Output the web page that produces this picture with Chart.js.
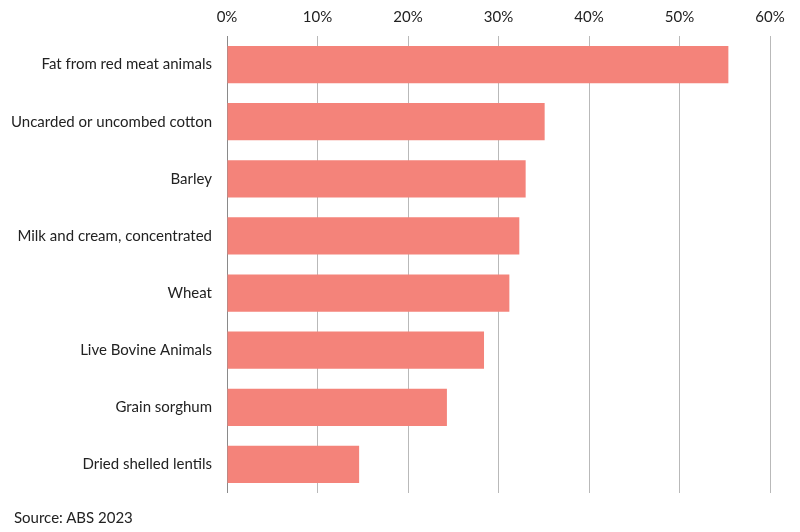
<!DOCTYPE html>
<html>
<head>
<meta charset="utf-8">
<script src="https://cdn.jsdelivr.net/npm/chart.js@4/dist/chart.umd.min.js"></script>
<style>
  html, body { margin: 0; padding: 0; background: #fff; }
  #wrap { position: relative; width: 800px; height: 532px; }
  #source { position: absolute; left: 14px; top: 508px; font: 15px Lato, sans-serif; color: #222; }
</style>
</head>
<body>
<div id="wrap">
  <canvas id="chart" width="800" height="532"></canvas>
  <div id="source">Source: ABS 2023</div>
</div>
<script>
// Data
const categories = ['Fat from red meat animals','Uncarded or uncombed cotton','Barley','Milk and cream, concentrated','Wheat','Live Bovine Animals','Grain sorghum','Dried shelled lentils'];
const shares = [55.4, 35.1, 33.0, 32.3, 31.2, 28.4, 24.3, 14.6];
const tickValues = [0, 10, 20, 30, 40, 50, 60];

document.addEventListener('DOMContentLoaded', function(){
  const ctx = document.getElementById('chart');
  new Chart(ctx.getContext('2d'), {
    type: 'bar',
    data: {
      labels: categories,
      datasets: [{
        data: shares,
        backgroundColor: '#f4837a',
        borderWidth: 0,
        categoryPercentage: 1,
        barPercentage: 0.65
      }]
    },
    options: {
      indexAxis: 'y',
      responsive: false,
      animation: false,
      layout: { padding: { left: 0, right: 30, top: 0, bottom: 39 } },
      plugins: { legend: { display: false }, tooltip: { enabled: false } },
      scales: {
        x: {
          position: 'top',
          min: tickValues[0],
          max: tickValues[tickValues.length - 1],
          afterBuildTicks: s => { s.ticks = tickValues.map(v => ({ value: v })); },
          afterFit: s => { s.height = 36; },
          ticks: {
            callback: v => v + '%',
            color: '#222',
            padding: 10,
            font: { family: 'Lato, sans-serif', size: 15 }
          },
          grid: {
            color: ctx => ctx.tick && ctx.tick.value === 0 ? '#8a8a8a' : '#b9b9b9',
            drawTicks: false
          },
          border: { display: false }
        },
        y: {
          afterFit: s => { s.width = 227; },
          ticks: {
            color: '#222',
            padding: 15,
            font: { family: 'Lato, sans-serif', size: 15 }
          },
          grid: { display: false, drawTicks: false },
          border: { display: false }
        }
      }
    }
  });
});
</script>
</body>
</html>
